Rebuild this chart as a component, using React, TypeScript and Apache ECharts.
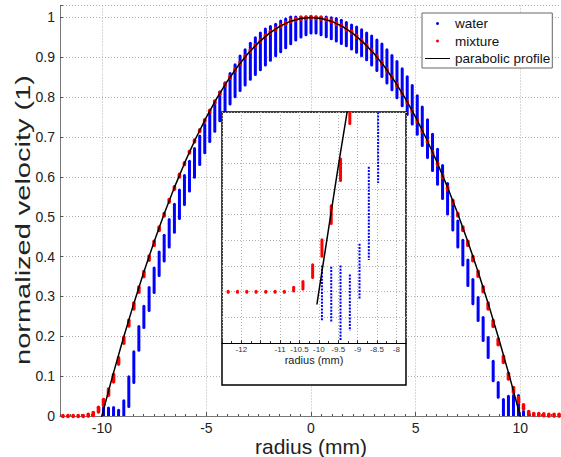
import React, { useEffect, useRef } from "react";
import * as echarts from "echarts";

// radius positions (mm) of the measurement columns
const radius = [
  -12.34, -12.1, -11.86, -11.62, -11.37, -11.13, -10.89, -10.65, -10.41, -10.16,
  -9.92, -9.68, -9.44, -9.2, -8.95, -8.71, -8.47, -8.23, -7.99, -7.74,
  -7.5, -7.26, -7.02, -6.78, -6.53, -6.29, -6.05, -5.81, -5.57, -5.32,
  -5.08, -4.84, -4.6, -4.36, -4.11, -3.87, -3.63, -3.39, -3.15, -2.9,
  -2.66, -2.42, -2.18, -1.94, -1.69, -1.45, -1.21, -0.97, -0.73, -0.48,
  -0.24, 0,
  0.24, 0.48, 0.73, 0.97, 1.21, 1.45, 1.69, 1.94, 2.18, 2.42,
  2.66, 2.9, 3.15, 3.39, 3.63, 3.87, 4.11, 4.36, 4.6, 4.84,
  5.08, 5.32, 5.57, 5.81, 6.05, 6.29, 6.53, 6.78, 7.02, 7.26,
  7.5, 7.74, 7.99, 8.23, 8.47, 8.71, 8.95, 9.2, 9.44, 9.68,
  9.92, 10.16, 10.41, 10.65, 10.89, 11.13, 11.37, 11.62, 11.86, 12.1,
  12.34,
];

// mixture: centre value of each red cluster and its half height
const mixture = [
  0, 0, 0, 0, 0, 0, 0, 0.002, 0.005, 0.016,
  0.034, 0.06, 0.095, 0.138, 0.19, 0.233, 0.276, 0.317, 0.356, 0.396,
  0.433, 0.47, 0.505, 0.54, 0.572, 0.603, 0.633, 0.662, 0.69, 0.716,
  0.741, 0.765, 0.788, 0.81, 0.831, 0.85, 0.868, 0.885, 0.901, 0.916,
  0.929, 0.941, 0.953, 0.963, 0.971, 0.979, 0.985, 0.991, 0.995, 0.998,
  0.999, 1.0,
  0.999, 0.998, 0.995, 0.991, 0.985, 0.979, 0.971, 0.963, 0.953, 0.941,
  0.929, 0.916, 0.901, 0.885, 0.868, 0.85, 0.831, 0.81, 0.788, 0.765,
  0.741, 0.715, 0.689, 0.661, 0.632, 0.602, 0.571, 0.538, 0.505, 0.47,
  0.433, 0.395, 0.357, 0.318, 0.276, 0.232, 0.186, 0.142, 0.1, 0.065,
  0.04, 0.023, 0.008, 0.004, 0.004, 0.003, 0.002, 0.002, 0.002, 0.002,
  0.002,
];
const mixtureSpread = [
  0, 0, 0, 0, 0, 0, 0, 0.001, 0.0025, 0.0045,
  0.006, 0.0065, 0.008, 0.0065, 0.006, 0.006, 0.006, 0.005, 0.005, 0.004,
  0.004, 0.003, 0.002, 0.002, 0.002, 0.002, 0.001, 0.001, 0.001, 0.001,
  0.001, 0.001, 0.001, 0.001, 0.001, 0.001, 0.001, 0.001, 0.001, 0.001,
  0.001, 0.001, 0.001, 0.001, 0.001, 0.001, 0.001, 0.001, 0.001, 0.001,
  0.001, 0.001,
  0.001, 0.001, 0.001, 0.001, 0.001, 0.001, 0.001, 0.001, 0.001, 0.001,
  0.001, 0.001, 0.001, 0.001, 0.001, 0.001, 0.001, 0.001, 0.001, 0.001,
  0.001, 0.001, 0.001, 0.001, 0.001, 0.002, 0.002, 0.002, 0.002, 0.003,
  0.004, 0.004, 0.005, 0.005, 0.006, 0.006, 0.006, 0.0065, 0.006, 0.005,
  0.005, 0.004, 0.002, 0.001, 0.001, 0.001, 0.001, 0.001, 0.001, 0.001,
  0.001,
];

// water: top and bottom of each blue column (null = no samples)
const waterHigh = [
  null, null, null, null, null, null, null, null, null, null,
  0.02, 0.019, 0.02, 0.013, 0.037, 0.097, 0.16, 0.223, 0.274, 0.321,
  0.37, 0.41, 0.452, 0.492, 0.53, 0.566, 0.602, 0.638, 0.67, 0.701,
  0.73, 0.76, 0.788, 0.812, 0.835, 0.858, 0.88, 0.902, 0.918, 0.934,
  0.948, 0.96, 0.97, 0.976, 0.982, 0.99, 0.995, 1.0, 1.0, 1.0,
  1.0, 1.0,
  1.0, 1.0, 1.0, 0.998, 0.996, 0.992, 0.986, 0.98, 0.975, 0.968,
  0.96, 0.952, 0.942, 0.932, 0.918, 0.903, 0.888, 0.87, 0.85, 0.828,
  0.802, 0.774, 0.742, 0.706, 0.668, 0.627, 0.582, 0.535, 0.488, 0.44,
  0.39, 0.341, 0.296, 0.246, 0.196, 0.136, 0.083, 0.04, 0.048, 0.05,
  0.05, 0.01, 0.005, null, null, null, null, null, null, null,
  null,
];
const waterLow = [
  null, null, null, null, null, null, null, null, null, null,
  -0.022, -0.023, -0.038, -0.03, -0.006, 0.025, 0.085, 0.166, 0.223, 0.266,
  0.311, 0.354, 0.39, 0.425, 0.462, 0.497, 0.532, 0.566, 0.6, 0.632,
  0.662, 0.69, 0.716, 0.742, 0.764, 0.784, 0.802, 0.818, 0.832, 0.846,
  0.858, 0.87, 0.882, 0.894, 0.905, 0.915, 0.925, 0.935, 0.945, 0.952,
  0.958, 0.962,
  0.962, 0.958, 0.953, 0.948, 0.942, 0.936, 0.93, 0.922, 0.914, 0.905,
  0.895, 0.882, 0.868, 0.853, 0.837, 0.82, 0.8, 0.78, 0.758, 0.734,
  0.708, 0.68, 0.65, 0.617, 0.583, 0.547, 0.508, 0.468, 0.425, 0.38,
  0.329, 0.283, 0.241, 0.191, 0.148, 0.09, 0.048, -0.01, -0.015, -0.015,
  -0.01, 0, 0, null, null, null, null, null, null, null,
  null,
];

// parabolic profile
const profileRadius = [
  -10.05, -10, -9.5, -9, -8.5, -8, -7.5, -7, -6.5, -6, -5.5, -5, -4.5, -4, -3.5, -3, -2.5, -2, -1.5, -1, -0.5, 0,
  0.5, 1, 1.5, 2, 2.5, 3, 3.5, 4, 4.5, 5, 5.5, 6, 6.5, 7, 7.5, 8, 8.5, 9, 9.5, 10, 10.05,
];
const profileValue = [
  -0.01, 0, 0.0975, 0.19, 0.2775, 0.36, 0.4375, 0.51, 0.5775, 0.64, 0.6975, 0.75, 0.7975, 0.84, 0.8775, 0.91, 0.9375, 0.96, 0.9775, 0.99, 0.9975, 1,
  0.9975, 0.99, 0.9775, 0.96, 0.9375, 0.91, 0.8775, 0.84, 0.7975, 0.75, 0.6975, 0.64, 0.5775, 0.51, 0.4375, 0.36, 0.2775, 0.19, 0.0975, 0, -0.01,
];

const FONT = "Liberation Sans, Arial, Helvetica, sans-serif";
const BLUE = "#0000ff";
const RED = "#ff0000";

export default function App() {
  const ref = useRef<HTMLDivElement>(null);

  useEffect(() => {
    if (!ref.current) return;
    const chart = echarts.init(ref.current, undefined, { renderer: "svg" });

    const waterData: number[][] = [];
    const mixData: number[][] = [];
    radius.forEach((r, i) => {
      if (waterHigh[i] !== null && waterLow[i] !== null) {
        waterData.push([r, waterLow[i] as number, waterHigh[i] as number]);
      }
      mixData.push([r, mixture[i] - mixtureSpread[i], mixture[i] + mixtureSpread[i]]);
    });
    const profileData = profileRadius.map((r, i) => [r, profileValue[i]]);

    const colRender = (color: string, width: number, cap: string, dash: number[] | null, xmin: number, xmax: number) =>
      (params: any, api: any) => {
        const x = api.value(0);
        if (x < xmin || x > xmax) return null;
        const a = api.coord([x, api.value(2)]);
        const b = api.coord([x, api.value(1)]);
        const style: any = { stroke: color, lineWidth: width, lineCap: cap };
        if (dash) style.lineDash = dash;
        return {
          type: "line",
          shape: { x1: a[0], y1: a[1] - 0.5, x2: b[0], y2: b[1] + 0.5 },
          style,
        };
      };

    const gridLine = { show: true, lineStyle: { color: "#b0b0b0", type: [1, 2] as any, width: 1 } };

    chart.setOption({
      animation: false,
      textStyle: { fontFamily: FONT },
      grid: [
        { left: 60, top: 5.5, width: 502, height: 410.5, outerBoundsMode: "none", containLabel: false },
        { left: 222, top: 112, width: 184, height: 231, z: 60, outerBoundsMode: "none", containLabel: false },
      ],
      legend: {
        orient: "vertical",
        left: 422,
        top: 13,
        padding: [3, 2, 2, 3],
        itemGap: 2.5,
        itemWidth: 25,
        itemHeight: 3,
        borderColor: "#666",
        borderWidth: 1,
        backgroundColor: "#fff",
        textStyle: { fontSize: 13.5, color: "#111", fontFamily: FONT, lineHeight: 15 },
        data: [
          { name: "water", icon: "circle" },
          { name: "mixture", icon: "circle" },
          { name: "parabolic profile", icon: "path://M0,0L50,0L50,2L0,2Z" },
        ],
        z: 80,
      },
      xAxis: [
        {
          type: "value",
          gridIndex: 0,
          min: -12,
          max: 12,
          splitNumber: 5,
          axisLine: { show: true, onZero: false, lineStyle: { color: "#777", width: 1 } },
          axisTick: { show: true, inside: true, length: 4, lineStyle: { color: "#555" } },
          axisLabel: {
            fontSize: 14, color: "#222", margin: 5, fontFamily: FONT, lineHeight: 14,
            showMinLabel: false, showMaxLabel: false,
          },
          splitLine: gridLine,
          name: "radius (mm)",
          nameLocation: "middle",
          nameGap: 20,
          nameMoveOverlap: false,
          nameTextStyle: { fontSize: 21, color: "#222", fontFamily: FONT, lineHeight: 20 },
        },
        {
          type: "value",
          gridIndex: 0,
          position: "bottom",
          min: -12,
          max: 12,
          interval: 0.5,
          axisLine: { show: false, onZero: false },
          axisTick: { show: true, inside: true, length: 2, lineStyle: { color: "#555" } },
          axisLabel: { show: false },
          splitLine: { show: false },
        },
        {
          type: "value",
          gridIndex: 1,
          min: -12.5,
          max: -7.75,
          interval: 0.5,
          z: 62,
          axisLine: { show: true, onZero: false, lineStyle: { color: "#000", width: 1 } },
          axisTick: { show: true, inside: true, length: 3, lineStyle: { color: "#333" } },
          minorTick: { show: true, splitNumber: 2, length: 2, lineStyle: { color: "#333" } },
          axisLabel: {
            fontSize: 8, color: "#333", margin: 1.5, fontFamily: FONT, lineHeight: 9,
            formatter: (v: number) => (Math.abs(v + 12.5) < 1e-6 || Math.abs(v + 11.5) < 1e-6 ? "" : String(v)),
          },
          splitLine: gridLine,
          name: "radius (mm)",
          nameLocation: "middle",
          nameGap: 11.5,
          nameMoveOverlap: false,
          nameTextStyle: { fontSize: 11, color: "#222", fontFamily: FONT, lineHeight: 11 },
        },
      ],
      yAxis: [
        {
          type: "value",
          gridIndex: 0,
          min: 0,
          max: 1.03,
          interval: 0.1,
          axisLine: { show: true, onZero: false, lineStyle: { color: "#777", width: 1 } },
          axisTick: { show: true, inside: true, length: 3, lineStyle: { color: "#555" } },
          axisLabel: {
            fontSize: 14, color: "#222", margin: 5, fontFamily: FONT,
            formatter: (v: number) => (v > 1.001 ? "" : String(Math.round(v * 10) / 10)),
          },
          splitLine: gridLine,
        },
        {
          type: "value",
          gridIndex: 1,
          min: -0.04,
          max: 0.14,
          interval: 0.02,
          z: 62,
          axisLine: { show: false },
          axisTick: { show: false },
          axisLabel: { show: false },
          splitLine: gridLine,
        },
      ],
      graphic: [
        {
          type: "rect",
          z: 55,
          shape: { x: 222, y: 112, width: 184, height: 273 },
          style: { fill: "#fff", stroke: "#000", lineWidth: 1.5 },
        },
        {
          type: "text",
          z: 5,
          x: 23,
          y: 220,
          rotation: Math.PI / 2,
          scaleX: 1.38,
          style: {
            text: "normalized velocity (1)",
            fontSize: 21,
            fontFamily: FONT,
            fill: "#222",
            align: "center",
            verticalAlign: "middle",
          },
        },
      ],
      series: [
        {
          name: "water",
          type: "custom",
          xAxisIndex: 0,
          yAxisIndex: 0,
          clip: true,
          z: 3,
          itemStyle: { color: BLUE },
          encode: { x: 0, y: [1, 2] },
          renderItem: colRender(BLUE, 3, "round", null, -12, 12),
          data: waterData,
        },
        {
          name: "mixture",
          type: "custom",
          xAxisIndex: 0,
          yAxisIndex: 0,
          clip: false,
          z: 4,
          itemStyle: { color: RED },
          encode: { x: 0, y: [1, 2] },
          renderItem: colRender(RED, 3.6, "round", null, -12, 12),
          data: mixData,
        },
        {
          name: "parabolic profile",
          type: "line",
          xAxisIndex: 0,
          yAxisIndex: 0,
          showSymbol: false,
          symbol: "none",
          z: 5,
          lineStyle: { color: "#000", width: 1.5 },
          itemStyle: { color: "#000" },
          data: profileData,
        },
        {
          name: "water",
          type: "custom",
          xAxisIndex: 2,
          yAxisIndex: 1,
          clip: true,
          z: 70,
          itemStyle: { color: BLUE },
          encode: { x: 0, y: [1, 2] },
          renderItem: colRender(BLUE, 2, "butt", [2, 1.3], -13, -7),
          data: waterData,
        },
        {
          name: "mixture",
          type: "custom",
          xAxisIndex: 2,
          yAxisIndex: 1,
          clip: true,
          z: 71,
          itemStyle: { color: RED },
          encode: { x: 0, y: [1, 2] },
          renderItem: colRender(RED, 3, "round", null, -13, -7),
          data: mixData,
        },
        {
          name: "parabolic profile",
          type: "line",
          xAxisIndex: 2,
          yAxisIndex: 1,
          showSymbol: false,
          symbol: "none",
          z: 72,
          clip: true,
          lineStyle: { color: "#000", width: 1.5 },
          itemStyle: { color: "#000" },
          data: profileData,
        },
      ],
    });

    return () => chart.dispose();
  }, []);

  return (
    <div
      ref={ref}
      style={{ position: "fixed", left: 0, top: 0, width: 561, height: 457, background: "#fff" }}
    />
  );
}
